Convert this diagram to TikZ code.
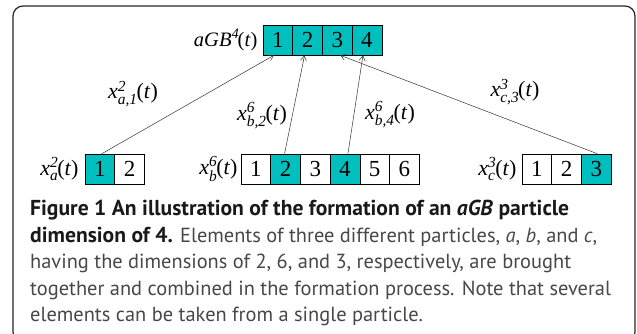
\documentclass[tikz,border=0pt]{standalone}
\usepackage{amsmath}
\usepackage{fontspec}
\setmainfont{Liberation Serif}
\newfontfamily\capfont{PT Sans}
\usepackage{tikz}
\usetikzlibrary{arrows.meta, positioning}
\definecolor{cellfill}{HTML}{00BFBF}
\definecolor{captext}{HTML}{474747}

% particle element label: x^{dim}_{particle,index}(t)
\newcommand{\xel}[2]{\textit{x}$^{\textit{#1}}_{\textit{#2}}$\kern-1pt(\textit{t})}
% bold part of the caption
\newcommand{\capbold}[1]{{\fontsize{21.6}{26.5}\selectfont\bfseries\color{black!90}#1}}

\begin{document}
\begin{tikzpicture}[
  x=1pt, y=-1pt,
  every node/.style = {font=\fontsize{22}{24}\selectfont},
  cell/.style  = {rectangle, draw=black, line width=0.6pt, inner sep=0pt,
                  minimum width=29.7pt, minimum height=30pt,
                  font=\fontsize{23}{23}\selectfont},
  hot/.style   = {cell, fill=cellfill},
  lbl/.style   = {inner sep=0pt},
  arr/.style   = {-{Straight Barb[length=5pt, width=6pt]}, line width=0.5pt, draw=black!80},
  frame/.style = {draw=black!85, line width=1.2pt, rounded corners=10pt},
  caption/.style = {inner sep=0pt, align=left, text=captext,
                    font=\capfont\fontsize{20.4}{26.5}\selectfont}
]
\useasboundingbox (0,0) rectangle (637,334);

%% ── OUTER FRAME ──────────────────────────────────────────────────
\draw[frame] (13,6) rectangle (635,342);

%% ── TOP ROW (aGB, dimension 4) ───────────────────────────────────
\node[hot]  at (277.85, 40) (g1) {1};
\node[hot]  at (307.55, 40) (g2) {2};
\node[hot]  at (337.25, 40) (g3) {3};
\node[hot]  at (366.95, 40) (g4) {4};
\node[lbl, left=5pt of g1, font=\fontsize{20.5}{22}\selectfont] (glab)
  {\textit{aGB}\textsuperscript{\textit{4}}\kern-1.5pt(\textit{t})};

%% ── BOTTOM ROW: particle a ───────────────────────────────────────
\node[hot]  at (99.85, 169)  (a1) {1};
\node[cell] at (129.55, 169) (a2) {2};
\node[lbl, left=6pt of a1] (alab) {\xel{2}{a}};

%% ── BOTTOM ROW: particle b ───────────────────────────────────────
\node[cell] at (255.85, 169) (b1) {1};
\node[hot]  at (285.55, 169) (b2) {2};
\node[cell] at (315.25, 169) (b3) {3};
\node[hot]  at (344.95, 169) (b4) {4};
\node[cell] at (374.65, 169) (b5) {5};
\node[cell] at (404.35, 169) (b6) {6};
\node[lbl, left=3pt of b1] (blab) {\xel{6}{b}};

%% ── BOTTOM ROW: particle c ───────────────────────────────────────
\node[cell] at (536.85, 169) (c1) {1};
\node[cell] at (566.55, 169) (c2) {2};
\node[hot]  at (596.25, 169) (c3) {3};
\node[lbl, left=5pt of c1] (clab) {\xel{3}{c}};

%% ── ARROWS ───────────────────────────────────────────────────────
\draw[arr] ([xshift=2pt]a1.north)  -- ([xshift=-4pt]g1.south);
\draw[arr] ([xshift=-1pt]b2.north) -- ([xshift=-3pt]g2.south);
\draw[arr] ([xshift=3pt]b4.north)  -- ([xshift=-4pt]g4.south);
\draw[arr] ([xshift=1pt]c3.north)  -- ([xshift=3pt]g3.south);

%% ── ARROW LABELS ─────────────────────────────────────────────────
\node[lbl] at (133, 94)  (ea1) {\xel{2}{a,1}};
\node[lbl] at (262, 116) (eb2) {\xel{6}{b,2}};
\node[lbl] at (390, 115) (eb4) {\xel{6}{b,4}};
\node[lbl] at (515, 92)  (ec3) {\xel{3}{c,3}};

%% ── CAPTION ──────────────────────────────────────────────────────
\node[caption, anchor=north west] at (30, 200) (cap) {%
  \capbold{Figure 1 An illustration of the formation of an \textit{aGB} particle}\\
  \capbold{dimension of 4.} Elements of three different particles, \textit{a}, \textit{b}, and \textit{c},\\
  having the dimensions of 2, 6, and 3, respectively, are brought\\
  together and combined in the formation process. Note that several\\
  elements can be taken from a single particle.};

\end{tikzpicture}
\end{document}
